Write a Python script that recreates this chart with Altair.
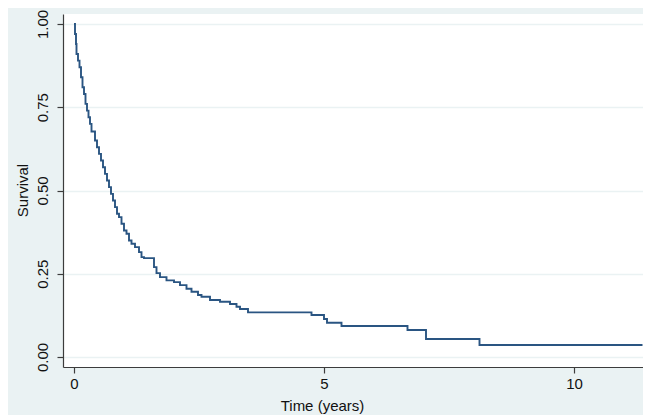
import altair as alt
import pandas as pd

# Kaplan-Meier estimate
time_years = [0.00, 0.02, 0.04, 0.05, 0.08, 0.11, 0.14, 0.17, 0.20, 0.23,
              0.26, 0.29, 0.32, 0.35, 0.42, 0.46, 0.50, 0.54, 0.58, 0.62,
              0.66, 0.70, 0.74, 0.78, 0.82, 0.86, 0.90, 0.95, 1.00, 1.05,
              1.10, 1.15, 1.22, 1.30, 1.35, 1.40, 1.60, 1.65, 1.72, 1.85,
              2.00, 2.12, 2.25, 2.35, 2.48, 2.55, 2.72, 2.92, 3.12, 3.25,
              3.32, 3.48, 4.75, 5.00, 5.06, 5.35, 6.67, 7.04, 8.11, 11.37]
survival = [1.000, 0.970, 0.940, 0.910, 0.890, 0.870, 0.840, 0.810, 0.790, 0.760,
            0.740, 0.720, 0.700, 0.677, 0.650, 0.630, 0.610, 0.590, 0.570, 0.550,
            0.530, 0.510, 0.490, 0.470, 0.450, 0.430, 0.420, 0.400, 0.380, 0.370,
            0.350, 0.340, 0.330, 0.315, 0.300, 0.297, 0.270, 0.252, 0.240, 0.230,
            0.225, 0.216, 0.205, 0.196, 0.186, 0.181, 0.171, 0.166, 0.159, 0.151,
            0.144, 0.134, 0.126, 0.114, 0.103, 0.093, 0.081, 0.054, 0.036, 0.036]

y_ticks = [0, 0.25, 0.5, 0.75, 1.0]
x_ticks = [0, 5, 10]

df = pd.DataFrame({"t": time_years, "s": survival})

FONT = "Liberation Sans"

chart = alt.Chart(df).mark_line(
    interpolate="step-after", color="#2a5582", strokeWidth=1.9
).encode(
    x=alt.X("t:Q", scale=alt.Scale(domain=[-0.22, 11.38], nice=False, zero=False),
            axis=alt.Axis(values=x_ticks, format="d", grid=False,
                          title="Time (years)", titleX=259, titleY=43,
                          titleAlign="center", titleBaseline="alphabetic",
                          labelPadding=3, tickSize=6)),
    y=alt.Y("s:Q", scale=alt.Scale(domain=[-0.03, 1.03], nice=False, zero=False),
            axis=alt.Axis(values=y_ticks, format=".2f", grid=True,
                          gridColor="#EAF2F3", gridWidth=1.5,
                          labelAngle=270, labelAlign="center", labelBaseline="bottom",
                          labelPadding=7, tickSize=6,
                          title="Survival", titleAngle=270, titleX=-41, titleY=176,
                          titleAlign="center", titleBaseline="middle")),
).properties(
    width=580, height=353,
    autosize=alt.AutoSizeParams(type="none"),
    padding={"left": 55, "top": 6, "right": 0, "bottom": 48},
).configure(
    background="#EAF2F3",
).configure_view(
    fill="white", strokeWidth=0,
).configure_axis(
    labelFont=FONT, titleFont=FONT, labelFontSize=15, titleFontSize=15,
    labelColor="#111111", titleColor="#111111", titleFontWeight="normal",
    domainColor="#3c3c3c", tickColor="#3c3c3c", domainWidth=1.2, tickWidth=1.2,
)

chart.save("out.html", embed_options={"renderer": "svg", "actions": False})
